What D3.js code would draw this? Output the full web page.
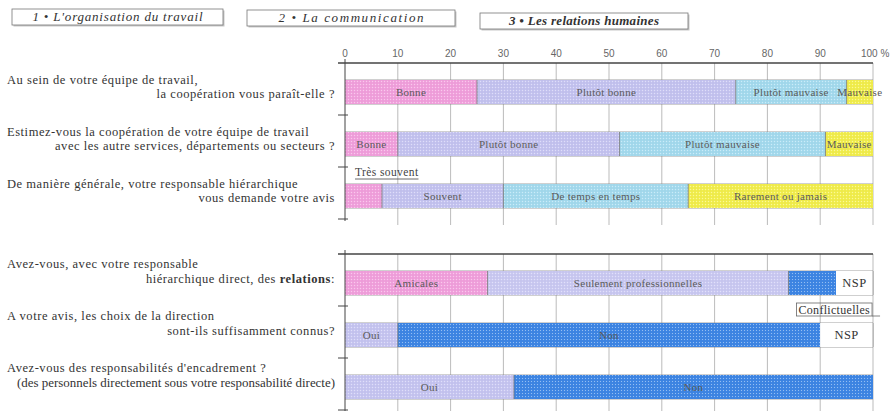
<!DOCTYPE html>
<html>
<head>
<meta charset="utf-8">
<script src="https://cdn.jsdelivr.net/npm/d3@7"></script>
<style>
  body { margin: 0; background: #fff; }
</style>
</head>
<body>
<div id="chart"></div>
<script>
// section headers
var headers = ["1 • L'organisation du travail", "2 • La communication", "3 • Les relations humaines"];

// tick labels of the percent axis
var ticks = [0, 10, 20, 30, 40, 50, 60, 70, 80, 90, 100];

// questions, two lines each
var questionsTop = [
  ["Au sein de votre équipe de travail,", "la coopération vous paraît-elle ?"],
  ["Estimez-vous la coopération de votre équipe de travail", "avec les autre services, départements ou secteurs ?"],
  ["De manière générale, votre responsable hiérarchique", "vous demande votre avis"]
];
var questionsBottom = [
  ["Avez-vous, avec votre responsable", "hiérarchique direct, des relations:"],
  ["A votre avis, les choix de la direction", "sont-ils suffisamment connus?"],
  ["Avez-vous des responsabilités d'encadrement ?", "(des personnels directement sous votre responsabilité directe)"]
];

// answer categories and percentages
var q1Cats = ["Bonne", "Plutôt bonne", "Plutôt mauvaise", "Mauvaise"];
var q1Vals = [25, 49, 21, 5];
var q2Cats = ["Bonne", "Plutôt bonne", "Plutôt mauvaise", "Mauvaise"];
var q2Vals = [10, 42, 39, 9];
var q3Cats = ["Très souvent", "Souvent", "De temps en temps", "Rarement ou jamais"];
var q3Vals = [7, 23, 35, 35];
var q4Cats = ["Amicales", "Seulement professionnelles", "Conflictuelles", "NSP"];
var q4Vals = [27, 57, 9, 7];
var q5Cats = ["Oui", "Non", "NSP"];
var q5Vals = [10, 80, 10];
var q6Cats = ["Oui", "Non"];
var q6Vals = [32, 68];

var colorOf = {
  "Bonne": "#f1a0dc", "Très souvent": "#f1a0dc", "Amicales": "#f1a0dc",
  "Plutôt bonne": "#c4c3f0", "Souvent": "#c4c3f0", "Seulement professionnelles": "#cac9f2", "Oui": "#c6c5f1",
  "Plutôt mauvaise": "#a4daee", "De temps en temps": "#a4daee",
  "Mauvaise": "#f2ee4e", "Rarement ou jamais": "#f2ee4e",
  "Conflictuelles": "#3e86e4", "Non": "#3e86e4",
  "NSP": "#ffffff"
};
// labels drawn outside their bar
var calloutAbove = ["Très souvent"];
var calloutBelow = ["Conflictuelles"];

var serif = "'Liberation Serif', 'Times New Roman', 'DejaVu Serif', serif";
var width = 891, height = 411;
var svg = d3.select("#chart").append("svg")
  .attr("width", width).attr("height", height)
  .attr("font-family", serif);

var defs = svg.append("defs");
var pat = defs.append("pattern").attr("id", "dots")
  .attr("width", 3).attr("height", 3).attr("patternUnits", "userSpaceOnUse");
pat.append("rect").attr("x", 0).attr("y", 0).attr("width", 1).attr("height", 1)
  .attr("fill", "#fff").attr("opacity", 0.45);
pat.append("rect").attr("x", 1.5).attr("y", 1.5).attr("width", 1).attr("height", 1)
  .attr("fill", "#000").attr("opacity", 0.08);

var x = d3.scaleLinear().domain([0, 100]).range([345, 873]);

// header boxes
var hdr = [{x: 12, y: 9, w: 211, h: 16, tw: 170}, {x: 247, y: 10, w: 208, h: 16, tw: 145}, {x: 480, y: 13, w: 208, h: 16, tw: 150}];
headers.forEach(function(t, i) {
  var b = hdr[i];
  svg.append("rect").attr("x", b.x + 1.5).attr("y", b.y + 1.5).attr("width", b.w).attr("height", b.h)
    .attr("fill", "#c8c8c8");
  svg.append("rect").attr("x", b.x).attr("y", b.y).attr("width", b.w).attr("height", b.h)
    .attr("fill", "#fff").attr("stroke", "#777").attr("stroke-width", 0.8);
  svg.append("text").attr("x", b.x + b.w / 2 - b.tw / 2).attr("y", b.y + 12)
    .attr("font-style", "italic")
    .attr("font-weight", i == 2 ? "bold" : "normal")
    .attr("textLength", b.tw).attr("lengthAdjust", "spacing")
    .attr("font-size", "13px").attr("fill", "#333").text(t);
});

// tick labels
svg.append("g").selectAll("text").data(ticks).enter().append("text")
  .attr("x", function(d) { return d == 100 ? x(d) - 12 : x(d); }).attr("y", 57)
  .attr("text-anchor", function(d) { return d == 100 ? "start" : "middle"; })
  .attr("font-family", "'Liberation Sans', Arial, sans-serif")
  .attr("font-size", "10px").attr("fill", "#666")
  .text(function(d) { return d == 100 ? "100 %" : d; });

function fitText(t, maxW) {
  var w = t.node().getComputedTextLength();
  if (w > maxW) t.attr("letter-spacing", null).attr("textLength", maxW).attr("lengthAdjust", "spacingAndGlyphs");
}

function drawSection(top, bottom, gridEnd, questions, cats, vals, lab1, lab2) {
  var y = d3.scaleBand().domain(d3.range(questions.length)).range([top, bottom]);
  var barH = 24, off = 17;
  var g = svg.append("g");

  // vertical grid
  g.selectAll(".grid").data(ticks.slice(1)).enter().append("line")
    .attr("x1", function(d) { return x(d); }).attr("x2", function(d) { return x(d); })
    .attr("y1", top).attr("y2", gridEnd)
    .attr("stroke", "#aaa").attr("stroke-width", 0.8);

  questions.forEach(function(q, i) {
    var y0 = y(i) + off;
    var acc = 0;
    var segs = cats[i].map(function(c, j) {
      var s = {cat: c, x0: acc, x1: acc + vals[i][j]};
      acc += vals[i][j];
      return s;
    });
    // row lines
    g.selectAll(null).data([y0, y0 + barH]).enter().append("line")
      .attr("x1", x(0)).attr("x2", x(100)).attr("y1", function(d) { return d; }).attr("y2", function(d) { return d; })
      .attr("stroke", "#888").attr("stroke-width", 0.8);

    var sg = g.selectAll(null).data(segs).enter().append("g");
    sg.append("rect")
      .attr("x", function(d) { return x(d.x0); }).attr("y", y0)
      .attr("width", function(d) { return x(d.x1) - x(d.x0); }).attr("height", barH)
      .attr("fill", function(d) { return colorOf[d.cat]; });
    sg.filter(function(d) { return d.cat != "NSP"; }).append("rect")
      .attr("x", function(d) { return x(d.x0); }).attr("y", y0)
      .attr("width", function(d) { return x(d.x1) - x(d.x0); }).attr("height", barH)
      .attr("fill", "url(#dots)");
    sg.filter(function(d) { return d.x0 > 0 && d.cat != "NSP"; }).append("line")
      .attr("x1", function(d) { return x(d.x0); }).attr("x2", function(d) { return x(d.x0); })
      .attr("y1", y0).attr("y2", y0 + barH)
      .attr("stroke", "#777").attr("stroke-width", 0.8);
    sg.filter(function(d) { return d.cat == "NSP"; }).append("line")
      .attr("x1", x(100)).attr("x2", x(100)).attr("y1", y0).attr("y2", y0 + barH)
      .attr("stroke", "#888").attr("stroke-width", 0.8);

    // labels inside
    sg.filter(function(d) { return calloutAbove.indexOf(d.cat) < 0 && calloutBelow.indexOf(d.cat) < 0; })
      .append("text")
      .attr("x", function(d) { return x((d.x0 + d.x1) / 2); }).attr("y", y0 + barH / 2 + 4)
      .attr("text-anchor", "middle")
      .attr("font-size", function(d) { return d.cat == "NSP" ? "12.5px" : "11px"; })
      .attr("letter-spacing", function(d) { return d.cat == "NSP" ? "0.5px" : "0.3px"; })
      .attr("fill", function(d) { return d.cat == "NSP" ? "#333" : "#5a5a5a"; })
      .text(function(d) { return d.cat; });

    // callouts
    segs.forEach(function(d) {
      if (calloutAbove.indexOf(d.cat) >= 0) {
        var t = g.append("text").attr("x", x(d.x0) + 10).attr("y", y0 - 8)
          .attr("font-size", "11.5px").attr("letter-spacing", "0.4px").attr("fill", "#444").text(d.cat);
        var w = t.node().getComputedTextLength();
        g.append("line").attr("x1", x(d.x0) + 10).attr("x2", x(d.x0) + 10 + w)
          .attr("y1", y0 - 5).attr("y2", y0 - 5).attr("stroke", "#444").attr("stroke-width", 0.8);
      }
      if (calloutBelow.indexOf(d.cat) >= 0) {
        var bx = x(d.x0) + 8, by = y0 + barH + 8;
        var t2 = g.append("text").attr("x", bx + 2).attr("y", by + 10.5)
          .attr("font-size", "12px").attr("letter-spacing", "0.3px").attr("fill", "#333").text(d.cat);
        var w2 = t2.node().getComputedTextLength() + 4;
        g.append("rect").attr("x", bx).attr("y", by).attr("width", w2).attr("height", 13)
          .attr("fill", "none").attr("stroke", "#666").attr("stroke-width", 0.8);
        g.append("line").attr("x1", bx + w2).attr("x2", bx + w2 + 8)
          .attr("y1", by + 13).attr("y2", by + 13).attr("stroke", "#666").attr("stroke-width", 0.8);
      }
    });

    // question text
    var l1 = g.append("text").attr("x", 7).attr("y", y0 + lab1)
      .attr("font-size", "12.5px").attr("letter-spacing", "0.55px").attr("fill", "#333").text(q[0]);
    fitText(l1, 320);
    var l2 = g.append("text").attr("x", 335).attr("y", y0 + lab2)
      .attr("text-anchor", "end").attr("font-size", "12.5px").attr("letter-spacing", "0.55px").attr("fill", "#333");
    var words = q[1].split("relations");
    if (words.length > 1) {
      l2.append("tspan").text(words[0]);
      l2.append("tspan").attr("font-weight", "bold").text("relations");
      l2.append("tspan").text(words[1]);
    } else {
      l2.text(q[1]);
    }
    fitText(l2, 318);
  });

  // top axis line and left axis
  g.append("line").attr("x1", x(0) - 7).attr("x2", x(100)).attr("y1", top).attr("y2", top)
    .attr("stroke", "#444").attr("stroke-width", 1.6);
  g.append("line").attr("x1", x(0)).attr("x2", x(0)).attr("y1", top - 4).attr("y2", bottom + 2)
    .attr("stroke", "#444").attr("stroke-width", 1);
  g.selectAll(null).data(d3.range(1, questions.length + 1)).enter().append("line")
    .attr("x1", x(0) - 7).attr("x2", x(0) + 3)
    .attr("y1", function(d) { return top + d * y.step(); })
    .attr("y2", function(d) { return top + d * y.step(); })
    .attr("stroke", "#444").attr("stroke-width", 1);
}

drawSection(63, 219, 225, questionsTop, [q1Cats, q2Cats, q3Cats], [q1Vals, q2Vals, q3Vals], 4, 18);
drawSection(254, 410, 411, questionsBottom, [q4Cats, q5Cats, q6Cats], [q4Vals, q5Vals, q6Vals], -3, 12);
</script>
</body>
</html>
